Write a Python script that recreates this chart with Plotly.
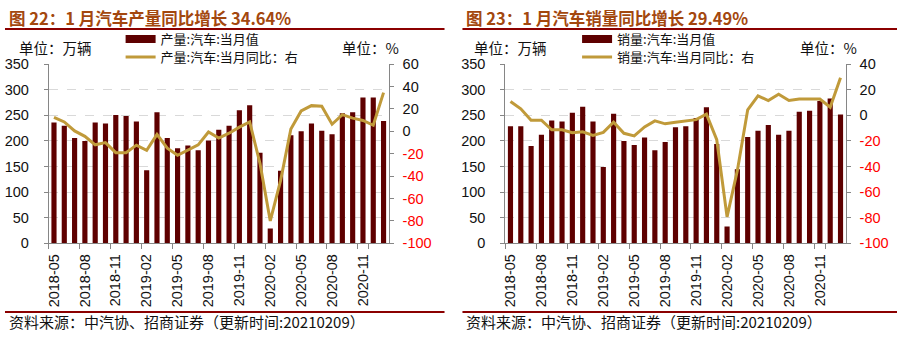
import plotly.graph_objects as go

months = ["2018-05","2018-06","2018-07","2018-08","2018-09","2018-10","2018-11","2018-12",
          "2019-01","2019-02","2019-03","2019-04","2019-05","2019-06","2019-07","2019-08",
          "2019-09","2019-10","2019-11","2019-12","2020-01","2020-02","2020-03","2020-04",
          "2020-05","2020-06","2020-07","2020-08","2020-09","2020-10","2020-11","2020-12","2021-01"]
tick_months = ["2018-05","2018-08","2018-11","2019-02","2019-05","2019-08","2019-11",
               "2020-02","2020-05","2020-08","2020-11"]

prod_val = [236, 230, 206, 200, 236, 234, 251, 249, 238, 143, 256, 206, 186, 191, 182, 201,
            222, 230, 260, 270, 177, 29, 142, 211, 219, 234, 220, 213, 254, 256, 285, 285, 239]
prod_yoy = [12.6, 8.4, 0.4, -4.4, -12.0, -10.0, -19.0, -19.0, -12.3, -17.0, -2.7, -15.0, -21.4,
            -17.0, -12.0, -0.5, -6.0, -1.6, 3.8, 8.4, -28.5, -80.0, -44.0, 2.1, 18.3, 23.0,
            22.5, 6.4, 15.0, 11.8, 9.8, 5.5, 34.64]

sales_val = [229, 229, 190, 212, 240, 238, 255, 267, 238, 149, 253, 200, 192, 207, 182, 198,
             227, 229, 245, 266, 194, 33, 145, 208, 220, 231, 212, 220, 257, 259, 278, 283, 252]
sales_yoy = [10.9, 5.1, -3.8, -3.8, -11.3, -11.3, -13.6, -12.8, -15.6, -13.3, -5.3, -14.0,
             -16.0, -9.0, -4.3, -6.6, -5.3, -4.1, -3.3, 1.0, -19.0, -79.3, -43.0, 4.4, 15.3,
             11.6, 16.6, 11.6, 12.8, 12.8, 12.8, 6.4, 29.49]

left_ticks = [0, 50, 100, 150, 200, 250, 300, 350]
r1_ticks = [60, 40, 20, 0, -20, -40, -60, -80, -100]
r2_ticks = [40, 20, 0, -20, -40, -60, -80, -100]

BAR = "#5E0000"
LINE = "#C09A3A"
RED = "#FF0000"
TXT = "#111111"
AXC = "#868686"
NUMF = "Liberation Sans, Arial, sans-serif"
CJK = "Noto Sans CJK SC, sans-serif"

W, H = 897, 339
def px(x): return x / W
def py(y): return 1 - y / H

def rtext(vals):
    out = []
    for v in vals:
        if v < 0:
            out.append(f"<span style='color:{RED}'>{v}</span>")
        else:
            out.append(str(v))
    return out

fig = go.Figure()

panels = [
    dict(xa="x", ya="y", ya2="y2", vals=prod_val, yoy=prod_yoy,
         n1="产量:汽车:当月值", n2="产量:汽车:当月同比：右", lg1="legend", lg2="legend2", lx=118),
    dict(xa="x2", ya="y3", ya2="y4", vals=sales_val, yoy=sales_yoy,
         n1="销量:汽车:当月值", n2="销量:汽车:当月同比：右", lg1="legend3", lg2="legend4", lx=576),
]
legend_layout = {}
for p in panels:
    fig.add_trace(go.Bar(x=months, y=p["vals"], xaxis=p["xa"], yaxis=p["ya"],
                         marker=dict(color=BAR, line=dict(width=0)), showlegend=False,
                         name=p["n1"]))
    fig.add_trace(go.Scatter(x=[None], y=[None], xaxis=p["xa"], yaxis=p["ya"], mode="lines",
                             line=dict(color=BAR, width=8), name=p["n1"], legend=p["lg1"]))
    fig.add_trace(go.Scatter(x=months, y=p["yoy"], xaxis=p["xa"], yaxis=p["ya2"], mode="lines",
                             line=dict(color=LINE, width=3), name=p["n2"], legend=p["lg2"]))
    for lg, yy in [(p["lg1"], 32.6), (p["lg2"], 51.6)]:
        legend_layout[lg] = dict(x=px(p["lx"]), y=py(yy), xanchor="left", yanchor="middle",
                                 bgcolor="rgba(0,0,0,0)",
                                 font=dict(family=CJK, size=13, color=TXT), itemwidth=30)

xcommon = dict(type="category", categoryorder="array", categoryarray=months,
               range=[-0.5, len(months) - 0.5], tickmode="array", tickvals=tick_months,
               ticktext=tick_months, tickangle=-90, tickson="boundaries", ticks="outside",
               ticklen=5, tickcolor=AXC, showline=True, linecolor=AXC, linewidth=1,
               showgrid=False, tickfont=dict(family=NUMF, size=14.5, color=TXT),
               ticklabelstandoff=4)
ycommon = dict(range=[0, 350], tickmode="array", tickvals=left_ticks, showline=True,
               linecolor=AXC, ticks="outside", ticklen=4, tickcolor=AXC, showgrid=True,
               gridcolor="#D9D9D9", griddash="dash", gridwidth=1, zeroline=False,
               tickfont=dict(family=NUMF, size=14.5, color=TXT), ticklabelstandoff=12)

dom_y = [py(247), py(59)]
fig.update_layout(
    width=W, height=H, margin=dict(l=0, r=0, t=0, b=0),
    plot_bgcolor="white", paper_bgcolor="white", bargap=0.5,
    xaxis=dict(domain=[px(46), px(387)], anchor="y", **xcommon),
    xaxis2=dict(domain=[px(504), px(845.5)], anchor="y3", **xcommon),
    yaxis=dict(domain=dom_y, anchor="x", **ycommon),
    yaxis3=dict(domain=dom_y, anchor="x2", **ycommon),
    yaxis2=dict(overlaying="y", anchor="x", side="right", range=[-100, 60], tickmode="array",
                tickvals=r1_ticks, ticktext=rtext(r1_ticks), showgrid=False, zeroline=False,
                showline=True, linecolor=AXC, ticks="outside", ticklen=4, tickcolor=AXC,
                tickfont=dict(family=NUMF, size=14.5, color=TXT), ticklabelstandoff=6),
    yaxis4=dict(overlaying="y3", anchor="x2", side="right", range=[-100, 40], tickmode="array",
                tickvals=r2_ticks, ticktext=rtext(r2_ticks), showgrid=False, zeroline=False,
                showline=True, linecolor=AXC, ticks="outside", ticklen=4, tickcolor=AXC,
                tickfont=dict(family=NUMF, size=14.5, color=TXT), ticklabelstandoff=6),
    showlegend=True,
    **legend_layout,
)

TITLE_C = "#A3470E"
LINE_C = "#8B0000"
for x0, x1, title, unit_l, unit_r in [
    (2, 443, "图 22：1 月汽车产量同比增长 34.64%", 14, 338),
    (461, 897, "图 23：1 月汽车销量同比增长 29.49%", 471, 798),
]:
    fig.add_annotation(x=px(x0 + 2), y=py(10.5), xref="paper", yref="paper", xanchor="left",
                       yanchor="middle", showarrow=False,
                       text=f"<b>{title}</b>", font=dict(family=CJK, size=16.5, color=TITLE_C))
    fig.add_shape(type="line", xref="paper", yref="paper", x0=px(x0), x1=px(x1),
                  y0=py(22), y1=py(22), line=dict(color=LINE_C, width=2))
    fig.add_shape(type="line", xref="paper", yref="paper", x0=px(x0), x1=px(x1),
                  y0=py(319), y1=py(319), line=dict(color=LINE_C, width=2))
    fig.add_annotation(x=px(x0 + 2), y=py(329), xref="paper", yref="paper", xanchor="left",
                       yanchor="middle", showarrow=False,
                       text="资料来源：中汽协、招商证券（更新时间:20210209）",
                       font=dict(family=CJK, size=15, color=TXT))
    fig.add_annotation(x=px(unit_l), y=py(41), xref="paper", yref="paper", xanchor="left",
                       yanchor="middle", showarrow=False, text="单位：万辆",
                       font=dict(family=CJK, size=14.5, color=TXT))
    fig.add_annotation(x=px(unit_r), y=py(41), xref="paper", yref="paper", xanchor="left",
                       yanchor="middle", showarrow=False, text="单位：%",
                       font=dict(family=CJK, size=14.5, color=TXT))

fig.write_html("out.html")
